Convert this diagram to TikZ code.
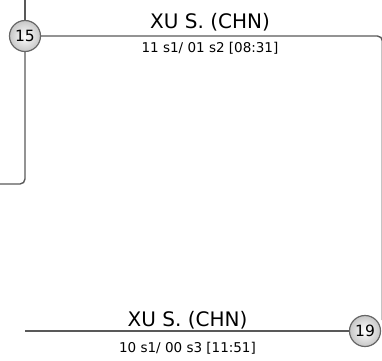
\documentclass[tikz,border=0pt]{standalone}
\usepackage{fontspec}
\setmainfont{DejaVu Sans}
\usetikzlibrary{positioning}

\tikzset{
  wire/.style={draw=black!65, line width=1.4pt, rounded corners=5pt},
  matchno/.style={circle, draw=black!60, line width=1.2pt, minimum size=31pt,
    inner sep=0pt, inner color=white, outer color=black!22, font=\fontsize{15.5}{16}\selectfont},
  player/.style={anchor=base, font=\fontsize{20}{20}\selectfont},
  score/.style={anchor=base, font=\fontsize{13.5}{14}\selectfont}
}

\begin{document}
\begin{tikzpicture}[x=1pt, y=-1pt]
  \useasboundingbox (0,0) rectangle (382,360);

  % ---- match circles ----
  \node[matchno] (m15) at (25,36) {15};
  \node[matchno] (m19) at (365,331) {19};

  % ---- free ends of the connectors ----
  \coordinate (inTop) at (25,-2);
  \coordinate (outLeft) at (-2,184);
  \coordinate (inBottom) at (25,331);
  \coordinate (rightEdge) at (382.4,320);

  % ---- incoming line into match 15 ----
  \draw[wire] (inTop) -- (m15);
  \draw[wire] (m15) |- (outLeft);
  % ---- match 15 -> match 19 ----
  \draw[wire] (m15) -| (rightEdge);
  \draw[wire] (inBottom) -- (m19);

  % ---- labels ----
  \node[player] (p15) at (210,28) {XU S. (CHN)};
  \node[score] (s15) at (210,52) {11 s1/ 01 s2 [08:31]};
  \node[player] (p19) at (187.5,326) {XU S. (CHN)};
  \node[score] (s19) at (187.5,352) {10 s1/ 00 s3 [11:51]};
\end{tikzpicture}
\end{document}
